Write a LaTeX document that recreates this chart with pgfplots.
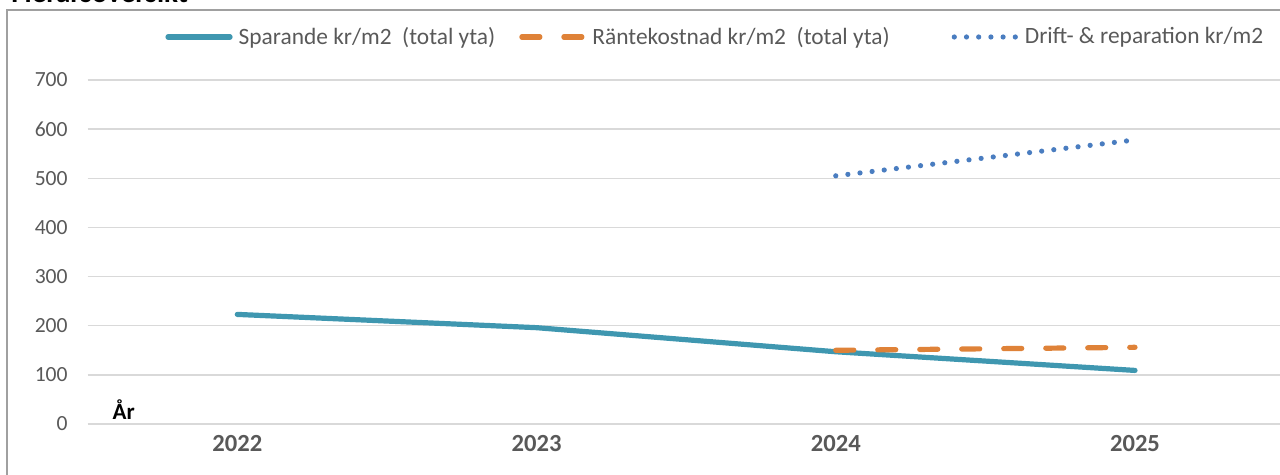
\documentclass[border=0pt]{standalone}
\usepackage{fontspec}
\setmainfont{Carlito}
\usepackage{pgfplots}
\pgfplotsset{compat=1.18}
\definecolor{cSpar}{HTML}{3F97B0}
\definecolor{cRant}{HTML}{DF8238}
\definecolor{cDrift}{HTML}{4A7DC0}
\definecolor{cTick}{HTML}{595959}
\definecolor{cGrid}{HTML}{D9D9D9}
\definecolor{cFrame}{HTML}{A0A0A0}
\begin{document}
\begin{tikzpicture}
\useasboundingbox (0,0) rectangle (640pt,237.5pt);
\draw[cFrame, line width=0.9pt] (3.4pt,-10pt) rectangle (650pt,232.5pt);
\node[anchor=base west, inner sep=0pt, font=\fontsize{14.5}{16}\selectfont\bfseries] at (5.5pt,236pt) {Flerårsöversikt};
\begin{axis}[
  at={(43.85pt,25.5pt)}, anchor=south west,
  scale only axis, width=598.45pt, height=172pt,
  xmin=-0.5, xmax=3.5, ymin=0, ymax=700,
  axis line style={draw=none},
  xtick={0,1,2,3}, xticklabels={2022,2023,2024,2025},
  ytick={0,100,...,700},
  tick style={draw=none},
  ymajorgrids, grid style={cGrid, line width=0.75pt},
  /pgf/number format/assume math mode=true,
  yticklabel style={font=\fontsize{10.8}{12}\selectfont, text=cTick, anchor=east, xshift=-6.5pt},
  xticklabel style={font=\fontsize{12.3}{14}\selectfont\bfseries, text=cTick, anchor=center, yshift=-10pt},
  clip=false,
  legend style={draw=none, fill=none, at={(0.0646,1.125)}, anchor=west, inner sep=0pt,
    font=\fontsize{11.7}{13}\selectfont, text=cTick,
    legend columns=3, /tikz/every even column/.append style={column sep=0pt},
    nodes={inner xsep=3pt}},
  legend image code/.code={\draw[#1] (0pt,0pt) -- (31pt,0pt);},
]
\addplot[cSpar, line width=2.6pt, line cap=round] coordinates {(0,223) (1,196) (2,147) (3,109)};
\addlegendentry{Sparande kr/m2\ \ (total yta)\rule{9pt}{0pt}}
\addplot[cRant, line width=2.6pt, line cap=round, dash pattern=on 9pt off 12pt] coordinates {(2,150) (3,156)};
\addlegendentry{Räntekostnad kr/m2\ \ (total yta)\rule{28pt}{0pt}}
\addplot[cDrift, line width=2.6pt, line cap=round, dash pattern=on 0pt off 6.1pt] coordinates {(2,505) (3,578)};
\addlegendentry{Drift- \& reparation kr/m2}
\node[anchor=west, inner sep=0pt, font=\fontsize{11.5}{13}\selectfont\bfseries] at (axis cs:-0.418,30) {År};
\end{axis}
\end{tikzpicture}
\end{document}
